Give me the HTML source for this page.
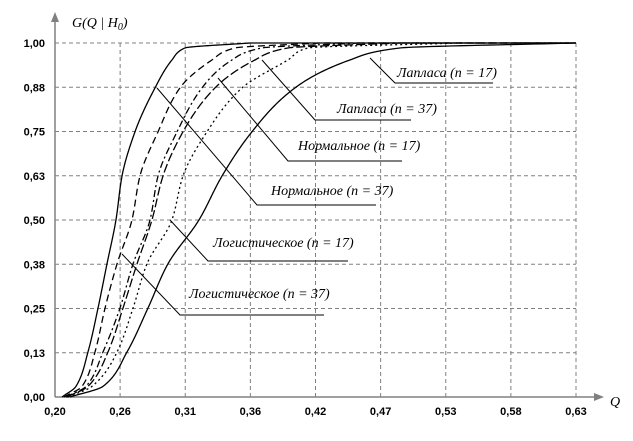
<!DOCTYPE html>
<html><head><meta charset="utf-8"><style>
html,body{margin:0;padding:0;background:#fff;}
svg{display:block;}
.tk{font-family:"Liberation Sans",sans-serif;font-weight:bold;font-size:11px;fill:#000;}
.lb{font-family:"Liberation Serif",serif;font-style:italic;font-size:14px;fill:#000;}
</style></head><body>
<svg id="chart" width="633" height="441" viewBox="0 0 633 441" xmlns="http://www.w3.org/2000/svg">
<g id="grid"></g>
<g id="axes">
  <line x1="55" y1="397" x2="55" y2="20" stroke="#808080" stroke-width="1.5"/>
  <polygon points="55,12 51,22 59,22" fill="#808080"/>
  <line x1="55" y1="397" x2="596" y2="397" stroke="#808080" stroke-width="1.5"/>
  <polygon points="604,397 594,393 594,401" fill="#808080"/>
  <text class="lb" x="72" y="27">G(Q | H<tspan font-size="10" dy="3">0</tspan><tspan dy="-3">)</tspan></text>
  <text class="lb" x="610" y="406">Q</text>
</g>
<g id="ticks"></g>
<g id="series"></g>
<g id="labels"></g>
</svg>
<script>
const xTickLabels = ["0,20","0,26","0,31","0,36","0,42","0,47","0,53","0,58","0,63"];
const yTickLabels = ["0,00","0,13","0,25","0,38","0,50","0,63","0,75","0,88","1,00"];
const gLevels = [0,0.03,0.127,0.251,0.376,0.5,0.624,0.749,0.873,0.952,0.986,1];
const qLaplace37 = [0.2058,0.2173,0.2272,0.2355,0.2429,0.2503,0.2553,0.2660,0.2825,0.2965,0.3073,0.3609];
const qNormal37 = [0.2074,0.2223,0.2330,0.2413,0.2512,0.2635,0.2701,0.2850,0.3031,0.3295,0.3485,0.4186];
const qLaplace17 = [0.2091,0.2256,0.2396,0.2536,0.2644,0.2784,0.2850,0.3007,0.3213,0.3460,0.3708,0.4516];
const qLogistic37 = [0.2099,0.2272,0.2437,0.2561,0.2677,0.2800,0.2891,0.3056,0.3320,0.3650,0.3922,0.4846];
const qNormal17 = [0.2107,0.2305,0.2512,0.2644,0.2759,0.2965,0.3056,0.3254,0.3543,0.3922,0.4087,0.5341];
const qLogistic17 = [0.2124,0.2396,0.2594,0.2767,0.2932,0.3188,0.3378,0.3625,0.3980,0.4434,0.4846,0.6298];

const NS="http://www.w3.org/2000/svg";
const X0=55,X1=576,Y0=397,Y1=43,QMIN=0.2,QMAX=0.63;
function xs(q){return X0+(q-QMIN)/(QMAX-QMIN)*(X1-X0);}
function ys(g){return Y0-g*(Y0-Y1);}
function mk(tag,attrs,parent){const e=document.createElementNS(NS,tag);for(const k in attrs)e.setAttribute(k,attrs[k]);parent.appendChild(e);return e;}
const grid=document.getElementById('grid'),ticks=document.getElementById('ticks');
xTickLabels.forEach((t,i)=>{
  const x=X0+i*(X1-X0)/(xTickLabels.length-1);
  if(i>0){const l=mk('line',{x1:x,y1:Y0,x2:x,y2:Y1,stroke:'#808080','stroke-dasharray':'4,3'},grid);
  
  }
  const tx=mk('text',{x:x,y:415,'text-anchor':'middle',class:'tk'},ticks);tx.textContent=t;
  
  
});
yTickLabels.forEach((t,i)=>{
  const y=Y0-i*(Y0-Y1)/(yTickLabels.length-1);
  if(i>0){const l=mk('line',{x1:X0,y1:y,x2:X1,y2:y,stroke:'#808080','stroke-dasharray':'4,3'},grid);
  
  }
  const tx=mk('text',{x:45,y:y+4,'text-anchor':'end',class:'tk'},ticks);tx.textContent=t;
  
  
});
// monotone cubic (Fritsch-Carlson) for x as function of G
function pathFor(qs){
  const n=qs.length, g=gLevels, x=qs.map(xs);
  const d=[],m=new Array(n);
  for(let i=0;i<n-1;i++)d.push((x[i+1]-x[i])/(g[i+1]-g[i]));
  m[0]=d[0];m[n-1]=d[n-2];
  for(let i=1;i<n-1;i++){
    if(d[i-1]*d[i]<=0)m[i]=0;
    else{const h0=g[i]-g[i-1],h1=g[i+1]-g[i];const w1=2*h1+h0,w2=h1+2*h0;m[i]=(w1+w2)/(w1/d[i-1]+w2/d[i]);}
  }
  let p=`M${x[0]},${ys(g[0])}`;
  for(let i=0;i<n-1;i++){
    const h=g[i+1]-g[i];
    for(let s=1;s<=24;s++){
      const t=s/24,t2=t*t,t3=t2*t;
      const xv=(2*t3-3*t2+1)*x[i]+(t3-2*t2+t)*h*m[i]+(-2*t3+3*t2)*x[i+1]+(t3-t2)*h*m[i+1];
      p+=` L${xv.toFixed(2)},${ys(g[i]+t*h).toFixed(2)}`;
    }
  }
  p+=` L${X1},${ys(1)}`;
  return p;
}
const seriesG=document.getElementById('series');
[[qLaplace37,'','laplace-37-curve'],[qNormal37,'7,4','normal-37-curve'],[qLaplace17,'7,3,2,3','laplace-17-curve'],
 [qLogistic37,'9,3','logistic-37-curve'],[qNormal17,'2,3','normal-17-curve'],[qLogistic17,'','logistic-17-curve']].forEach(s=>{
  const a={d:pathFor(s[0]),fill:'none',stroke:'#000','stroke-width':1.3,'stroke-linejoin':'round'};
  if(s[1])a['stroke-dasharray']=s[1];
  const el=mk('path',a,seriesG);
  
  
});
const labG=document.getElementById('labels');
[
 [370,58,395,83,493,'Лапласа (','17)',397,77,'label-laplace-17'],
 [262,60,315,120,411,'Лапласа (','37)',337,113,'label-laplace-37'],
 [218,78,288,161,402,'Нормальное (','17)',298,150,'label-normal-17'],
 [157,88,257,205,376,'Нормальное (','37)',271,195,'label-normal-37'],
 [170,220,208,261,348,'Логистическое (','17)',213,247,'label-logistic-17'],
 [122,254,180,315,324,'Логистическое (','37)',189,298,'label-logistic-37']
].forEach(l=>{
  const g=mk('g',{},labG);
  
  
  mk('polyline',{points:`${l[0]},${l[1]} ${l[2]},${l[3]} ${l[4]},${l[3]}`,fill:'none',stroke:'#000','stroke-width':1},g);
  const t=mk('text',{x:l[7],y:l[8],class:'lb'},g);
  t.textContent=l[5]+'n = '+l[6];
});
</script>
</body></html>
